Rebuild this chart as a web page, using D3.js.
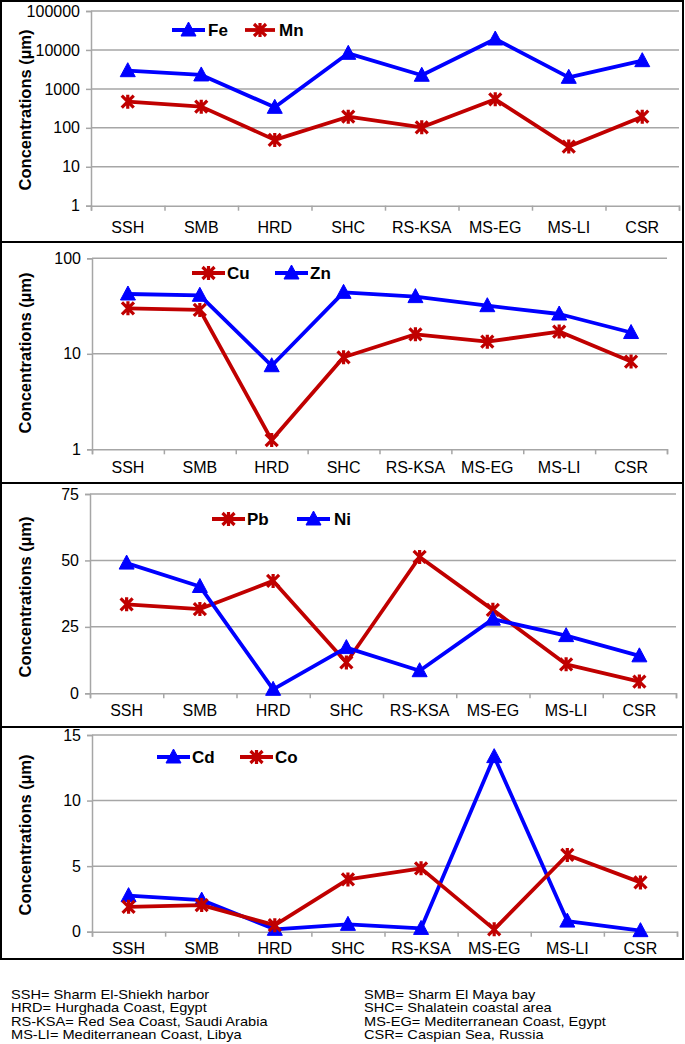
<!DOCTYPE html>
<html><head><meta charset="utf-8">
<script src="https://cdn.jsdelivr.net/npm/d3@7"></script>
<style>body{margin:0;background:#fff} svg{display:block;font-family:"Liberation Sans",Arial,sans-serif}</style>
</head><body><svg id="c" width="685" height="1044"></svg>
<script>
const categories = ["SSH","SMB","HRD","SHC","RS-KSA","MS-EG","MS-LI","CSR"];
const fe = [2930, 2280, 336, 8190, 2240, 19100, 1980, 5300];
const mn = [470, 350, 49, 193, 103, 540, 33, 193];
const cu = [29.9, 28.8, 1.25, 9.2, 16, 13.4, 17.1, 8.3];
const zn = [42.3, 41, 7.5, 44, 39.7, 31.9, 26.1, 16.7];
const pb = [33.5, 31.7, 42.3, 11.6, 51.3, 31.4, 10.9, 4.4];
const ni = [49, 40.2, 1.5, 17.2, 8.5, 27.9, 21.7, 14.1];
const cd = [2.75, 2.41, 0.18, 0.56, 0.25, 13.35, 0.81, 0.08];
const co = [1.9, 2.03, 0.5, 3.99, 4.83, 0.18, 5.85, 3.76];
const ticksP1 = [1, 10, 100, 1000, 10000, 100000];
const ticksP2 = [1, 10, 100];
const ticksP3 = [0, 25, 50, 75];
const ticksP4 = [0, 5, 10, 15];
const yTitle = "Concentrations (µm)";
const footLeft = ["SSH= Sharm El-Shiekh harbor","HRD= Hurghada Coast, Egypt","RS-KSA= Red Sea Coast, Saudi Arabia","MS-LI= Mediterranean Coast, Libya"];
const footRight = ["SMB= Sharm El Maya bay","SHC= Shalatein coastal area","MS-EG= Mediterranean Coast, Egypt","CSR= Caspian Sea, Russia"];

const BLUE = "#0000ff", RED = "#c00000", GRID = "#a6a6a6";
const svg = d3.select("#c");

const panels = [
  {box:[1,242], x0:91, x1:679, yb:205.7, yt:11, log:true, domain:[1,100000], ticks:ticksP1, labelY:233, titleY:110,
   series:[{name:"Fe",v:fe,c:BLUE,m:"tri"},{name:"Mn",v:mn,c:RED,m:"star"}], legY:30, leg:[[172,205,208],[245,275,279]]},
  {box:[242,483], x0:92, x1:667, yb:449.3, yt:258.3, log:true, domain:[1,100], ticks:ticksP2, labelY:473, titleY:353,
   series:[{name:"Cu",v:cu,c:RED,m:"star"},{name:"Zn",v:zn,c:BLUE,m:"tri"}], legY:273, leg:[[192,225,227],[275,308,310]]},
  {box:[483,727], x0:90, x1:676, yb:693.3, yt:494, log:false, domain:[0,75], ticks:ticksP3, labelY:716, titleY:597,
   series:[{name:"Pb",v:pb,c:RED,m:"star"},{name:"Ni",v:ni,c:BLUE,m:"tri"}], legY:519, leg:[[212,245,247],[297,330,334]]},
  {box:[727,959], x0:92, x1:677, yb:931.7, yt:735, log:false, domain:[0,15], ticks:ticksP4, labelY:953.5, titleY:835,
   series:[{name:"Cd",v:cd,c:BLUE,m:"tri"},{name:"Co",v:co,c:RED,m:"star"}], legY:757, leg:[[157,190,192],[240,273,275]]}
];

function marker(g, type, color, x, y) {
  if (type === "tri") {
    g.append("path").attr("d", "M0,-8L7.5,6L-7.5,6Z").attr("transform", `translate(${x},${y})`)
      .attr("fill", color).attr("stroke", color).attr("stroke-width", 1).attr("stroke-linejoin","round");
  } else {
    g.append("path").attr("d", "M-6,-6L6,6M-6,6L6,-6M0,-7L0,7").attr("transform", `translate(${x},${y})`)
      .attr("fill", "none").attr("stroke", color).attr("stroke-width", 3.2);
  }
}

panels.forEach(p => {
  const g = svg.append("g");
  g.append("rect").attr("x", 1).attr("y", p.box[0]).attr("width", 682).attr("height", p.box[1]-p.box[0])
    .attr("fill", "none").attr("stroke", "#000").attr("stroke-width", 2);
  const y = (p.log ? d3.scaleLog() : d3.scaleLinear()).domain(p.domain).range([p.yb, p.yt]);
  const x = d3.scaleBand().domain(categories).range([p.x0, p.x1]).paddingInner(0).paddingOuter(0);
  const xb = d3.scaleLinear().domain([0, categories.length]).range([p.x0, p.x1]);
  g.append("g").selectAll("line").data(p.ticks.slice(1)).join("line")
    .attr("x1", p.x0).attr("x2", p.x1).attr("y1", d => y(d)).attr("y2", d => y(d))
    .attr("stroke", GRID).attr("stroke-width", 1.5);
  const ya = g.append("g").attr("transform", `translate(${p.x0},0)`)
    .call(d3.axisLeft(y).tickValues(p.ticks).tickSize(5).tickPadding(6).tickFormat(d => String(d)));
  ya.attr("font-family", null).attr("font-size", null);
  ya.select(".domain").attr("stroke", GRID).attr("stroke-width", 1.5);
  ya.selectAll(".tick line").attr("stroke", GRID).attr("stroke-width", 1.5);
  ya.selectAll(".tick text").attr("font-size", 16).attr("fill", "#000");
  const xa = g.append("g").attr("transform", `translate(0,${p.yb})`)
    .call(d3.axisBottom(xb).tickValues(d3.range(categories.length + 1)).tickSize(5).tickFormat(""));
  xa.select(".domain").attr("stroke", GRID).attr("stroke-width", 1.5);
  xa.selectAll(".tick line").attr("stroke", GRID).attr("stroke-width", 1.5);
  g.append("g").selectAll("text").data(categories).join("text")
    .attr("x", d => x(d) + x.bandwidth()/2).attr("y", p.labelY)
    .attr("text-anchor", "middle").attr("font-size", 16).attr("fill", "#000").text(d => d);
  g.append("text").attr("transform", `translate(31,${p.titleY}) rotate(-90)`)
    .attr("text-anchor", "middle").attr("font-size", 16.5).attr("font-weight", "bold").text(yTitle);
  const line = d3.line().x((d, i) => x(categories[i]) + x.bandwidth()/2).y(d => y(d));
  p.series.forEach(s => {
    const sg = g.append("g");
    sg.append("path").datum(s.v).attr("d", line).attr("fill", "none").attr("stroke", s.c)
      .attr("stroke-width", 3.8).attr("stroke-linejoin", "round");
    s.v.forEach((v, i) => marker(sg, s.m, s.c, x(categories[i]) + x.bandwidth()/2, y(v)));
  });
  p.series.forEach((s, k) => {
    const [a, b, t] = p.leg[k];
    g.append("line").attr("x1", a).attr("x2", b).attr("y1", p.legY).attr("y2", p.legY)
      .attr("stroke", s.c).attr("stroke-width", 3.8);
    marker(g, s.m, s.c, (a + b) / 2, p.legY);
    g.append("text").attr("x", t).attr("y", p.legY + 6).attr("font-size", 17).attr("font-weight", "bold").text(s.name);
  });
});

const fg = svg.append("g").attr("font-size", 13.5).attr("fill", "#000");
function foot(t, x, i) {
  const el = fg.append("text").attr("x", x).attr("y", 998.5 + i * 13.5).text(t);
  const len = el.node().getComputedTextLength();
  el.attr("textLength", len * 1.08).attr("lengthAdjust", "spacingAndGlyphs");
}
footLeft.forEach((t, i) => foot(t, 11, i));
footRight.forEach((t, i) => foot(t, 364, i));
</script></body></html>
